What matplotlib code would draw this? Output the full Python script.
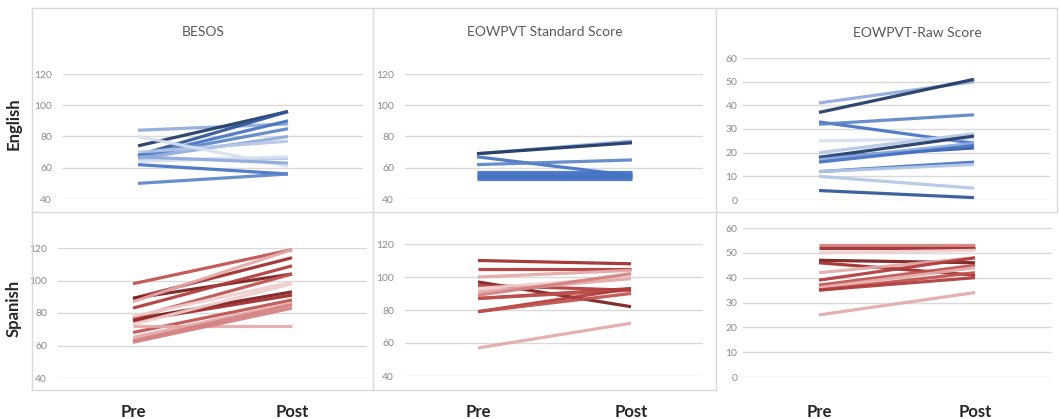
import matplotlib
matplotlib.use("Agg")
import matplotlib.pyplot as plt
from matplotlib.lines import Line2D

plt.rcParams['font.family'] = ['Lato', 'DejaVu Sans']

# ---------------- data ----------------
categories = ["Pre", "Post"]
panel_titles = ["BESOS", "EOWPVT Standard Score", "EOWPVT-Raw Score"]
row_labels = ["English", "Spanish"]

# English – BESOS
en_besos_pre = [84, 74, 68, 67, 67, 66, 70, 80, 65, 64, 62, 50, 67]
en_besos_post = [88, 96, 96, 90, 85, 80, 77, 61, 66, 67, 56, 56, 63]
# English – EOWPVT Standard Score
en_std_pre = [69, 69, 67, 62, 53, 54, 55, 56, 57]
en_std_post = [77, 76, 55, 65, 53, 54, 55, 56, 57]
# English – EOWPVT Raw Score
en_raw_pre = [41, 37, 33, 32, 25, 20, 18, 18, 17, 16, 12, 12, 10, 4]
en_raw_post = [50, 51, 24, 36, 26, 28, 27, 22, 24, 23, 16, 15, 5, 1]
# Spanish – BESOS
es_besos_pre = [98, 89, 89, 83, 87, 76, 75, 77, 73, 68, 72, 65, 63, 62, 78]
es_besos_post = [119, 114, 104, 109, 119, 93, 91, 104, 98, 88, 72, 86, 85, 83, 99]
# Spanish – EOWPVT Standard Score
es_std_pre = [110, 105, 100, 97, 95, 93, 91, 89, 87, 87, 79, 79, 57]
es_std_post = [108, 105, 104, 82, 92, 100, 99, 102, 93, 92, 93, 90, 72]
# Spanish – EOWPVT Raw Score
es_raw_pre = [53, 52, 50, 47, 46, 42, 39, 37, 36, 35, 35, 25]
es_raw_post = [53, 52, 51, 46, 41, 48, 48, 45, 44, 42, 40, 34]

score_ticks = [40, 60, 80, 100, 120]
raw_ticks = [0, 10, 20, 30, 40, 50, 60]

# ---------------- styles ----------------
B_NAVY, B_DARK, B_MED, B_MID2, B_LIGHT, B_LIGHTER, B_PALE = (
    "#1F3864", "#2F5597", "#4472C4", "#5B84C8", "#8EA9DB", "#B4C7E7", "#D6E0F0")
R_DARK, R_DARK2, R_MED, R_MID, R_LIGHT, R_LIGHTER, R_PALE = (
    "#7B1C1C", "#9E2A2A", "#B03A3A", "#C0504D", "#D47F7F", "#E3A9A9", "#F0CFCF")

en_besos_col = [B_LIGHT, B_NAVY, B_DARK, B_MED, B_MID2, B_LIGHT, B_LIGHTER, B_PALE,
                B_LIGHTER, B_PALE, B_MED, B_MID2, B_LIGHT]
en_std_col = [B_LIGHT, B_NAVY, B_MED, B_MID2, B_MED, B_MED, B_MED, B_MED, B_MED]
en_raw_col = [B_LIGHT, B_NAVY, B_MED, B_MID2, B_PALE, B_LIGHTER, B_NAVY, B_DARK,
              B_LIGHT, B_MED, B_MED, B_LIGHTER, B_LIGHTER, B_DARK]
es_besos_col = [R_MID, R_DARK2, R_DARK, R_MED, R_LIGHTER, R_DARK, R_DARK2, R_MID,
                R_PALE, R_MID, R_LIGHTER, R_LIGHTER, R_LIGHT, R_LIGHT, R_PALE]
es_std_col = [R_DARK2, R_MED, R_LIGHTER, R_DARK, R_MED, R_PALE, R_LIGHTER, R_LIGHT,
              R_MED, R_MID, R_MED, R_MID, R_LIGHTER]
es_raw_col = [R_LIGHT, R_DARK2, R_PALE, R_DARK, R_DARK2, R_LIGHTER, R_MED, R_MID,
              R_LIGHTER, R_MID, R_MED, R_LIGHTER]

panels = [
    [(en_besos_pre, en_besos_post, en_besos_col, score_ticks),
     (en_std_pre, en_std_post, en_std_col, score_ticks),
     (en_raw_pre, en_raw_post, en_raw_col, raw_ticks)],
    [(es_besos_pre, es_besos_post, es_besos_col, score_ticks),
     (es_std_pre, es_std_post, es_std_col, score_ticks),
     (es_raw_pre, es_raw_post, es_raw_col, raw_ticks)],
]

# pixel geometry: (grid left, grid right, pre x, post x, top grid y, bottom grid y)
geom = [
    [(63, 363, 138, 288, 74, 199), (405, 703, 477, 632, 74, 199), (743, 1050, 819, 974, 58, 200)],
    [(58, 367, 133, 292, 248, 378), (405, 703, 478, 631, 244, 376), (743, 1052, 819, 975, 228, 377)],
]
label_pad = [8, 8, 4]

W, H = 1060, 419
fig = plt.figure(figsize=(W / 100, H / 100), dpi=100)
fig.patch.set_facecolor("white")

GRID = "#D9D9D9"
TICK = "#8C8C8C"

for r in range(2):
    for c in range(3):
        L, R, xp, xq, T, Bt = geom[r][c]
        pre, post, cols, ticks = panels[r][c]
        ax = fig.add_axes([L / W, 1 - Bt / H, (R - L) / W, (Bt - T) / H])
        span = xq - xp
        ax.set_xlim((L - xp) / span, (R - xp) / span)
        ax.set_ylim(ticks[0], ticks[-1])
        ax.set_yticks(ticks)
        ax.yaxis.grid(True, color=GRID, lw=1.0)
        ax.set_axisbelow(True)
        for s in ax.spines.values():
            s.set_visible(False)
        ax.tick_params(axis="y", length=0, labelsize=7.5, labelcolor=TICK, pad=label_pad[c])
        for a, b, col in zip(pre, post, cols):
            ax.plot([0, 1], [a, b], color=col, lw=2.3, alpha=0.92,
                    solid_capstyle="butt", clip_on=False)
        if r == 1:
            ax.set_xticks([0, 1])
            ax.set_xticklabels(categories, fontsize=12, fontweight="bold", color="#262626")
            ax.tick_params(axis="x", length=0, pad=(404 - Bt) / 1.389)
        else:
            ax.set_xticks([])

# titles
title_pos = [(203, 32), (545, 32), (917, 33)]
for t, (x, y) in zip(panel_titles, title_pos):
    fig.text(x / W, 1 - y / H, t, ha="center", va="center", fontsize=10, color="#595959")

# row labels
for t, y in zip(row_labels, [124, 308]):
    fig.text(14 / W, 1 - y / H, t, ha="center", va="center", rotation=90,
             fontsize=12, fontweight="bold", color="#262626")

# panel frames
def fline(x0, y0, x1, y1):
    fig.add_artist(Line2D([x0 / W, x1 / W], [1 - y0 / H, 1 - y1 / H],
                          color=GRID, lw=1.0, transform=fig.transFigure))

fline(32, 8, 1057, 8)
fline(32, 212, 1057, 212)
fline(32, 390, 716, 390)
fline(32, 8, 32, 390)
fline(373, 8, 373, 390)
fline(716, 8, 716, 390)
fline(1057, 8, 1057, 212)

fig.savefig("out.png", dpi=100, facecolor="white")
